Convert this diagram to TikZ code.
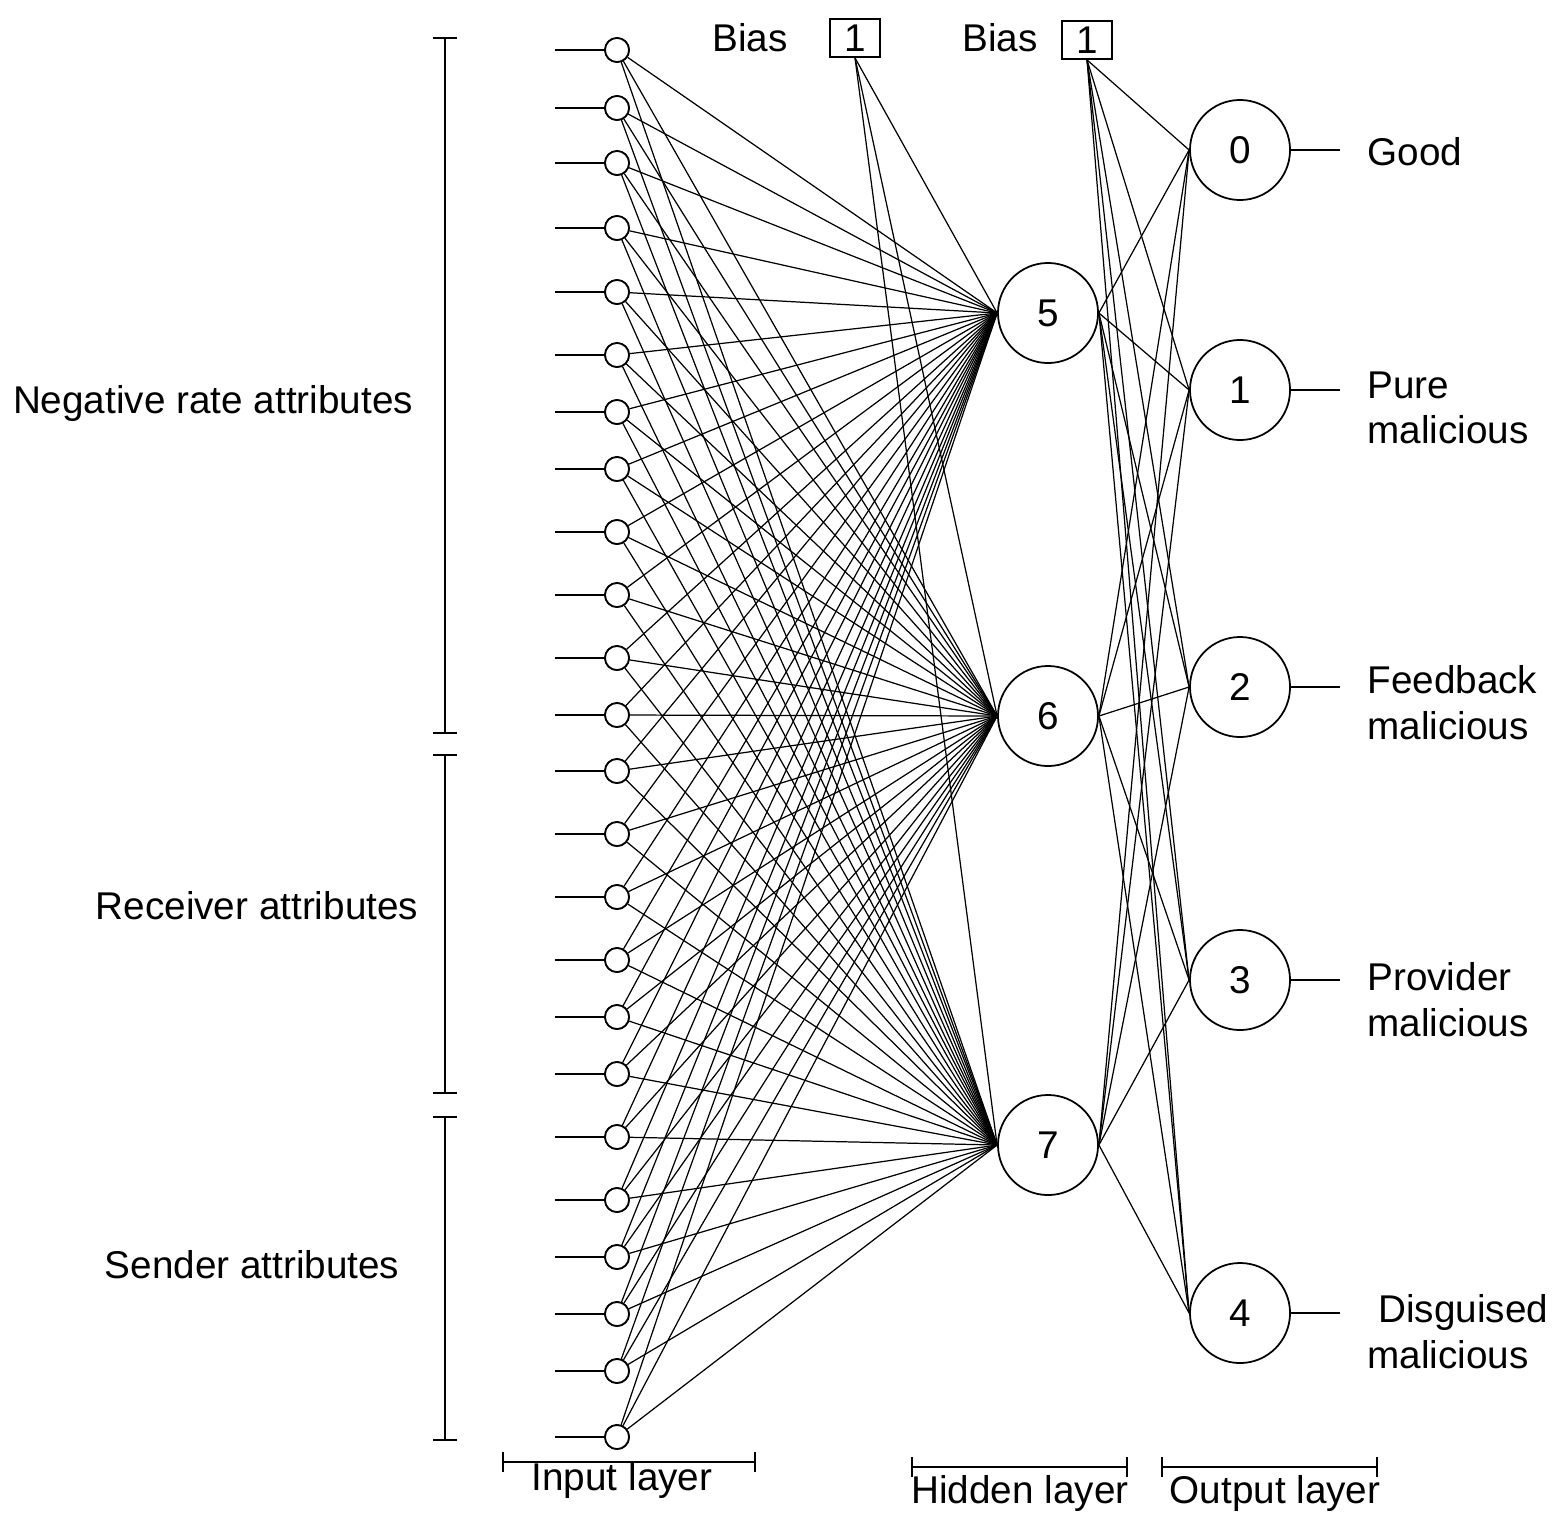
\documentclass[tikz,border=0pt]{standalone}
\usepackage{fontspec}
\setmainfont{Liberation Sans}
\begin{document}
\begin{tikzpicture}[x=0.01cm,y=-0.01cm,
 inp/.style={circle,draw,line width=0.5pt,minimum size=0.24cm,inner sep=0pt,fill=white},
 big/.style={circle,draw,line width=0.5pt,minimum size=1cm,inner sep=0pt,font=\fontsize{11}{13}\selectfont},
 bias/.style={draw,line width=0.5pt,minimum width=0.5cm,minimum height=0.38cm,inner sep=0pt,font=\fontsize{11}{13}\selectfont},
 lbl/.style={font=\fontsize{11}{13}\selectfont},
 w/.style={line width=0.35pt},
 br/.style={line width=0.6pt}]
\useasboundingbox (0,0) rectangle (1552,1530);
\foreach \y [count=\i] in {50,108,163,228,292,355,412,469,532,595,658,715,771,834,897,960,1017,1074,1137,1200,1257,1314,1371,1437}{
  \coordinate (s\i) at (555,\y);
  \node[inp] (i\i) at (617,\y) {};
  \draw[w] (s\i) -- (i\i);
}
\node[big] (h5) at (1048,313) {5};
\node[big] (h6) at (1048,716) {6};
\node[big] (h7) at (1048,1145) {7};
\node[bias] (b1) at (855,38) {1};
\node[bias] (b2) at (1087,40) {1};
\node[lbl,anchor=east] at (800,38) {Bias};
\node[lbl,anchor=east] at (1050,38) {Bias};
\foreach \n/\y in {0/150,1/390,2/687,3/980,4/1313}{
  \node[big] (o\n) at (1240,\y) {\n};
  \coordinate (e\n) at (1340,\y);
  \draw[w] (o\n.east) -- (e\n);
}
\begin{scope}[on background layer/.try]
\foreach \i in {1,...,24}{\foreach \h in {5,6,7}{\draw[w] (i\i) -- (h\h.west);}}
\foreach \h in {5,6,7}{\draw[w] (b1.south) -- (h\h.west);
  \foreach \n in {0,...,4}{\draw[w] (h\h.east) -- (o\n.west);}}
\foreach \n in {0,...,4}{\draw[w] (b2.south) -- (o\n.west);}
\end{scope}
\foreach \i in {1,...,24}{\node[inp] at (i\i) {};}
\node[lbl,anchor=west] at (1355,152) {Good};
\node[lbl,anchor=west,align=left] at (1355,408) {Pure\\malicious};
\node[lbl,anchor=west,align=left] at (1355,703) {Feedback\\malicious};
\node[lbl,anchor=west,align=left] at (1355,1000) {Provider\\malicious};
\node[lbl,anchor=west,align=left] at (1355,1332) {\ Disguised\\malicious};
% left brackets
\draw[br] (445,38) -- (445,733) (433,38)--(457,38) (433,733)--(457,733);
\draw[br] (445,755) -- (445,1093) (433,755)--(457,755) (433,1093)--(457,1093);
\draw[br] (445,1117) -- (445,1440) (433,1117)--(457,1117) (433,1440)--(457,1440);
\node[lbl] at (213,403) {Negative rate attributes};
\node[lbl] at (257,906) {Receiver attributes};
\node[lbl] at (252,1265) {Sender attributes};
% bottom brackets
\draw[br] (503,1462)--(755,1462) (503,1452)--(503,1472) (755,1452)--(755,1472);
\draw[br] (912,1467)--(1127,1467) (912,1457)--(912,1477) (1127,1457)--(1127,1477);
\draw[br] (1162,1467)--(1377,1467) (1162,1457)--(1162,1477) (1377,1457)--(1377,1477);
\node[lbl] at (622,1480) {Input layer};
\node[lbl] at (1020,1493) {Hidden layer};
\node[lbl] at (1275,1493) {Output layer};
\end{tikzpicture}
\end{document}
